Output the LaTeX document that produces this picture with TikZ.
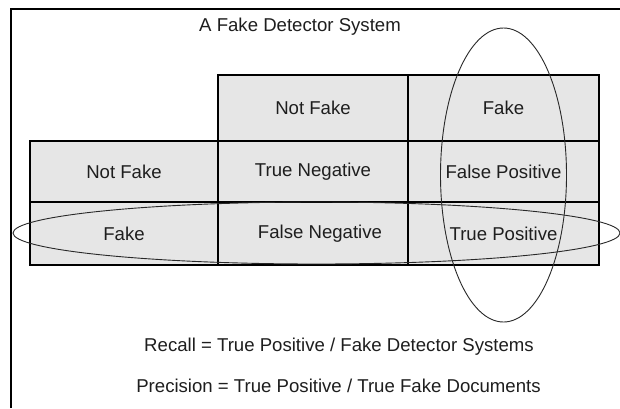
\documentclass[tikz,border=0pt]{standalone}
\usepackage{fontspec}
\setmainfont{Liberation Sans}
\usetikzlibrary{shapes.geometric}
\definecolor{cellgray}{RGB}{230,230,230}
\definecolor{inkgray}{RGB}{30,30,30}
\definecolor{ringgray}{RGB}{40,40,40}
\begin{document}
\begin{tikzpicture}[x=1pt,y=-1pt,
  txt/.style={font=\fontsize{18.6}{22}\selectfont, text=inkgray, inner sep=0pt},
  cell/.style={txt, draw=black, line width=1.2pt, fill=cellgray},
  colA/.style={minimum width=188pt},
  colB/.style={minimum width=190pt},
  colC/.style={minimum width=191pt},
  ring/.style={ellipse, draw=ringgray, line width=0.9pt, inner sep=0pt}]
  \useasboundingbox (0,0) rectangle (620,408);
  \fill[white] (0,0) rectangle (620,408);

  % outer frame (top and left edges)
  \draw[line width=2.4pt, line join=miter] (11,408) -- (11,9) -- (620,9);

  % title
  \node[txt] (title) at (300,27) {A Fake Detector System};

  % header row
  \node[cell, colB, minimum height=66pt] (hNF) at (313,108) {Not Fake};
  \node[cell, colC, minimum height=66pt] (hF)  at (503.5,108) {Fake};

  % row: Not Fake
  \node[cell, colA, minimum height=61pt] (rNF) at (124,171.5) {Not Fake};
  \node[cell, colB, minimum height=61pt] (tn)  at (313,171.5) {True Negative};
  \node[cell, colC, minimum height=61pt] (fp)  at (503.5,171.5) {False Positive};

  % row: Fake
  \node[cell, colA, minimum height=63pt] (rF) at (124,233.5) {Fake};
  \node[cell, colB, minimum height=63pt] (fn) at (313,233.5) {\hspace*{14pt}False Negative};
  \node[cell, colC, minimum height=63pt] (tp) at (503.5,233.5) {True Positive};

  % highlight rings
  \node[ring, minimum width=126pt, minimum height=294pt] (colring) at (503.5,175) {};
  \node[ring, minimum width=607pt, minimum height=62pt] (rowring) at (316.5,233) {};

  % formulas
  \node[txt] (recall) at (339,347) {Recall = True Positive / Fake Detector Systems};
  \node[txt] (precision) at (338.5,386) {Precision = True Positive / True Fake Documents};
\end{tikzpicture}
\end{document}
